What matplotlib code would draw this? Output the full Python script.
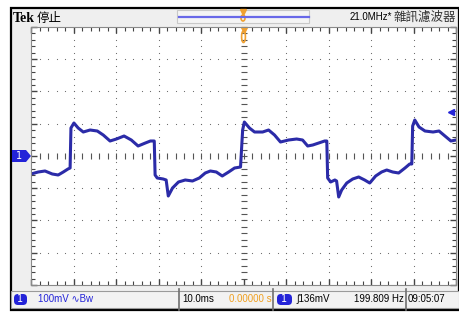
import numpy as np
import matplotlib.pyplot as plt
from matplotlib.patches import Rectangle, Polygon, FancyBboxPatch, Ellipse

# scope trace: time in ms (10 ms/div), level in mV (100 mV/div)
t_ms = [-50.0, -48.3, -46.7, -45.0, -43.6, -42.4, -41.3, -40.8, -40.6, -39.9,
        -38.9, -37.7, -36.1, -34.4, -33.0, -31.4, -29.9, -28.1, -26.4, -24.8,
        -23.1, -21.9, -21.0, -20.8, -20.3, -18.9, -18.2, -17.7, -16.7, -15.3,
        -13.7, -12.0, -10.4, -9.0, -7.8, -6.4, -5.0, -3.5, -2.1, -0.7,
        -0.2, 0.2, 1.4, 2.6, 4.5, 5.9, 7.3, 8.7, 10.6, 12.5,
        13.9, 15.1, 16.3, 17.7, 19.1, 19.6, 19.8, 20.5, 21.5, 21.9,
        22.4, 23.1, 24.3, 25.7, 27.1, 28.5, 29.7, 31.1, 32.5, 33.7,
        35.1, 36.5, 38.0, 39.1, 39.6, 39.8, 40.3, 41.3, 42.7, 44.6,
        46.0, 47.4, 48.8, 50.0]
v_mv = [-55.8, -49.6, -46.5, -55.8, -58.9, -49.6, -40.3, -37.2, 86.8, 102.3,
        86.8, 74.4, 80.6, 77.5, 65.1, 46.5, 52.7, 62.0, 49.6, 31.0,
        40.3, 46.5, 46.5, -58.9, -68.2, -71.3, -74.4, -124.0, -99.2, -80.6,
        -74.4, -77.5, -68.2, -52.7, -46.5, -49.6, -62.0, -49.6, -37.2, -34.1,
        80.6, 105.4, 86.8, 74.4, 74.4, 80.6, 65.1, 43.4, 49.6, 52.7,
        49.6, 31.0, 34.1, 40.3, 46.5, 46.5, -68.2, -80.6, -74.4, -77.5,
        -127.1, -105.4, -83.7, -71.3, -65.1, -74.4, -83.7, -62.0, -49.6, -43.4,
        -49.6, -52.7, -37.2, -24.8, -24.8, 93.0, 111.6, 89.9, 77.5, 74.4,
        77.5, 62.0, 46.5, 49.6]

trig_level_mv = 136
header_left = "Tek 停止"
header_right_freq = "21.0MHz*"
header_right_filter = "雜訊濾波器"
footer_texts = ["100mV ∿Bw", "10.0ms", "0.00000 s", "∫136mV", "199.809 Hz", "09:05:07"]

W, H = 459, 313
fig = plt.figure(figsize=(W / 100, H / 100), dpi=100)
fig.patch.set_facecolor('white')

# full-figure pixel axes for the screen furniture
deco = fig.add_axes([0, 0, 1, 1])
deco.set_xlim(0, W)
deco.set_ylim(H, 0)
deco.axis('off')

cjk = ['Noto Sans CJK TC', 'DejaVu Sans']
narrow = ['Liberation Sans', 'DejaVu Sans']
blue = '#2323d8'
fs = 7

deco.add_patch(Rectangle((11, 8), W - 11, 302, facecolor='#efefef', edgecolor='black', lw=1.6))
deco.text(13, 18, "Tek", fontsize=10, fontweight='bold', family=['Liberation Serif', 'DejaVu Serif'],
          va='center', ha='left')
deco.text(37, 18, header_left.split()[1], fontsize=9, family=cjk, va='center', ha='left')

# record position bar
deco.add_patch(Rectangle((177, 10), 132, 13, facecolor='#f4f4f4', edgecolor='#c8c8c8', lw=0.8))
deco.plot([179, 309], [17, 17], color='#6868e8', lw=1.6)
deco.plot([243], [11.5], marker='v', color='#f0a030', ms=5)
deco.add_patch(Ellipse((243, 18), 4, 6, facecolor='none', edgecolor='#f0a030', lw=1.2))

deco.text(392, 17, header_right_freq, fontsize=fs, family=narrow, va='center', ha='right')
deco.text(394, 17, header_right_filter, fontsize=9, family=cjk, va='center', ha='left', color='#333333')

# footer
deco.add_patch(Rectangle((11, 291), W - 11, 17, facecolor='#f2f2f2', edgecolor='#9a9a9a', lw=0.8))
for sx in [179, 273, 406]:
    deco.plot([sx, sx], [289, 310], color='#707070', lw=1.2)
deco.add_patch(FancyBboxPatch((14, 294), 13, 11, boxstyle='round,pad=0,rounding_size=4',
                              facecolor=blue, edgecolor='none'))
deco.text(20.5, 299.5, "1", color='white', fontsize=7, ha='center', va='center')
deco.text(38, 299.5, footer_texts[0], color=blue, fontsize=fs, family=narrow, ha='left', va='center')
deco.text(182, 299.5, footer_texts[1], color='black', fontsize=fs, family=narrow, ha='left', va='center')
deco.text(272, 299.5, footer_texts[2], color='#f0a020', fontsize=fs, family=narrow, ha='right', va='center')
deco.add_patch(FancyBboxPatch((277, 294), 15, 11, boxstyle='round,pad=0,rounding_size=4',
                              facecolor=blue, edgecolor='none'))
deco.text(284.5, 299.5, "1", color='white', fontsize=7, ha='center', va='center')
deco.text(297, 299.5, footer_texts[3], color='black', fontsize=fs, family=narrow, ha='left', va='center')
deco.text(404, 299.5, footer_texts[4], color='black', fontsize=fs, family=narrow, ha='right', va='center')
deco.text(408, 299.5, footer_texts[5], color='black', fontsize=fs, family=narrow, ha='left', va='center')

# channel 1 ground marker
deco.add_patch(Polygon([(12, 150), (26, 150), (31, 156), (26, 162), (12, 162)], closed=True,
                       facecolor=blue, edgecolor='none'))
deco.text(19, 156, "1", color='white', fontsize=7, ha='center', va='center')

# graticule
x0, y0, x1, y1 = 31, 27, 456, 285
ax = fig.add_axes([x0 / W, 1 - y1 / H, (x1 - x0) / W, (y1 - y0) / H])
ax.set_facecolor('white')
ax.set_xlim(-50, 50)
ax.set_ylim(-400, 400)
for s in ax.spines.values():
    s.set_color('#8a8a8a')
    s.set_linewidth(0.8)

major_x = np.arange(-50, 51, 10)
major_y = np.arange(-400, 401, 100)
ax.set_xticks(major_x)
ax.set_yticks(major_y)
ax.set_xticks(np.arange(-50, 51, 2), minor=True)
ax.set_yticks(np.arange(-400, 401, 20), minor=True)
ax.tick_params(which='both', direction='in', top=True, right=True,
               labelbottom=False, labelleft=False, color='#444444')
ax.tick_params(which='major', length=4, width=1)
ax.tick_params(which='minor', length=3, width=0.8)

dot_x = np.arange(-50, 50.1, 2)
dot_y = np.arange(-400, 400.1, 20)
for gy in major_y[1:-1]:
    if gy != 0:
        ax.scatter(dot_x, np.full_like(dot_x, gy, dtype=float), s=0.7, color='#666666', lw=0)
for gx in major_x[1:-1]:
    if gx != 0:
        ax.scatter(np.full_like(dot_y, gx, dtype=float), dot_y, s=0.7, color='#666666', lw=0)
# centre cross with sub-division ticks
ax.scatter(dot_x, np.zeros_like(dot_x), marker='|', s=14, color='#555555', lw=0.8)
ax.scatter(np.zeros_like(dot_y), dot_y, marker='_', s=14, color='#555555', lw=0.8)

ax.plot(t_ms, v_mv, color='#2b2ba8', lw=2.2, solid_joinstyle='round')

# trigger markers
ax.plot([0], [392], marker='v', color='#f0a030', ms=5, clip_on=False)
ax.add_patch(Ellipse((0, 370), 0.9, 36, facecolor='none', edgecolor='#f0a030', lw=1.2, clip_on=False))
ax.plot([48.8], [trig_level_mv], marker='<', color=blue, ms=5)

fig.savefig('out.png', dpi=100)
